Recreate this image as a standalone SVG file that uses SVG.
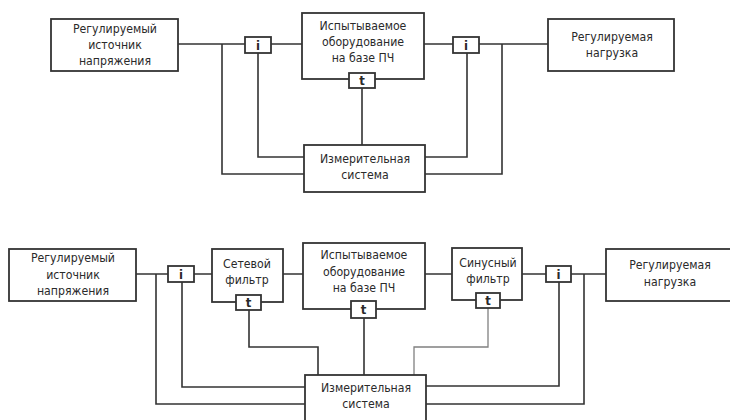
<svg xmlns="http://www.w3.org/2000/svg" width="730" height="420" viewBox="0 0 730 420">
<style>
.box{fill:#fff;stroke:#333;stroke-width:1.8}
.w{fill:none;stroke:#333;stroke-width:1.6}
.lw{fill:none;stroke:#808080;stroke-width:1.3}
text{font-family:"DejaVu Sans Condensed","DejaVu Sans",sans-serif;font-stretch:condensed;font-size:12.2px;fill:#2a2a2a;text-anchor:middle}
.s{font-size:13px;font-weight:bold}
</style>
<rect width="730" height="420" fill="#fff"/>
<g id="connectors">
<path class="w" d="M178,44H245M271,44H302M424,44H453M479,44H548M222,44V174H304M258,53V157H304M362,88V145M467,53V157H425M502,44V174H425"/>
<path class="w" d="M136,274H168M194,274H212M283,274H303M425,274H452M522,274H546M571,274H606M156,274V404H305M182,282V387H305M249,310V347H318V375M364,318V375M559,282V386H426M584,274V404H426"/>
<path class="lw" d="M488,308V347H414V375"/>
</g>
<g id="src1"><rect class="box" x="51" y="19" width="127" height="52"/><text x="115" y="33">Регулируемый</text><text x="115" y="49">источник</text><text x="115" y="65">напряжения</text></g>
<g id="i1a"><rect class="box" x="245" y="37" width="26" height="16"/><text class="s" x="258" y="50">i</text></g>
<g id="equip1"><rect class="box" x="302" y="13" width="122" height="66"/><text x="363" y="30">Испытываемое</text><text x="363" y="46">оборудование</text><text x="363" y="62">на базе ПЧ</text></g>
<g id="t1"><rect class="box" x="349" y="73" width="26" height="15"/><text class="s" x="362" y="85">t</text></g>
<g id="i1b"><rect class="box" x="453" y="37" width="26" height="16"/><text class="s" x="466" y="50">i</text></g>
<g id="load1"><rect class="box" x="548" y="19" width="126" height="52"/><text x="612" y="41">Регулируемая</text><text x="612" y="57">нагрузка</text></g>
<g id="meas1"><rect class="box" x="304" y="145" width="121" height="47"/><text x="365" y="163">Измерительная</text><text x="365" y="179">система</text></g>

<g id="src2"><rect class="box" x="9" y="249" width="127" height="52"/><text x="73" y="262">Регулируемый</text><text x="73" y="279">источник</text><text x="73" y="295">напряжения</text></g>
<g id="i2a"><rect class="box" x="168" y="266" width="26" height="16"/><text class="s" x="181" y="279">i</text></g>
<g id="netf"><rect class="box" x="212" y="249" width="71" height="53"/><text x="247" y="268">Сетевой</text><text x="247" y="284">фильтр</text></g>
<g id="t2a"><rect class="box" x="236" y="295" width="25" height="15"/><text class="s" x="248.5" y="307">t</text></g>
<g id="equip2"><rect class="box" x="303" y="243" width="122" height="66"/><text x="364" y="259">Испытываемое</text><text x="364" y="276">оборудование</text><text x="364" y="292">на базе ПЧ</text></g>
<g id="t2b"><rect class="box" x="351" y="301" width="25" height="17"/><text class="s" x="363.5" y="314">t</text></g>
<g id="sinef"><rect class="box" x="452" y="248" width="70" height="52"/><text x="488" y="267">Синусный</text><text x="488" y="283">фильтр</text></g>
<g id="t2c"><rect class="box" x="476" y="293" width="24" height="15"/><text class="s" x="488" y="305">t</text></g>
<g id="i2b"><rect class="box" x="546" y="266" width="25" height="16"/><text class="s" x="558.5" y="279">i</text></g>
<g id="load2"><rect class="box" x="606" y="249" width="130" height="52"/><text x="670" y="269">Регулируемая</text><text x="670" y="286">нагрузка</text></g>
<g id="meas2"><rect class="box" x="305" y="375" width="121" height="50"/><text x="366" y="392">Измерительная</text><text x="366" y="408">система</text></g>
</svg>
